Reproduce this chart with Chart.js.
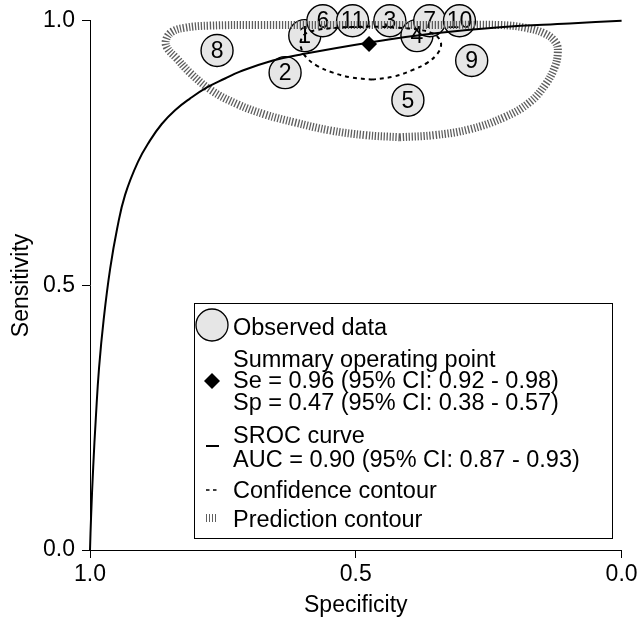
<!DOCTYPE html>
<html>
<head>
<meta charset="utf-8">
<script src="https://cdn.jsdelivr.net/npm/chart.js@4.4.1/dist/chart.umd.min.js"></script>
<style>
  html, body { margin: 0; padding: 0; background: #fff; }
  #wrap { width: 639px; height: 620px; position: relative; }
</style>
</head>
<body>
<div id="wrap"><canvas id="c" width="639" height="620"></canvas></div>
<script>
// ---------- data ----------
const studyLabels = ['1','2','3','4','5','6','7','8','9','10','11'];
const studySpecificity = [0.596, 0.633, 0.436, 0.385, 0.402, 0.562, 0.361, 0.761, 0.282, 0.305, 0.506];
const studySensitivity = [0.972, 0.902, 1.000, 0.972, 0.850, 1.000, 1.000, 0.944, 0.925, 1.000, 1.000];

const summarySpecificity = [0.475];
const summarySensitivity = [0.956];

const srocSpecificity = [1.000, 0.998, 0.994, 0.989, 0.983, 0.974, 0.962, 0.949, 0.934, 0.910, 0.887, 0.865, 0.840, 0.812, 0.780, 0.746, 0.718, 0.656, 0.605, 0.474, 0.355, 0.229, 0.098, 0.000];
const srocSensitivity = [0.000, 0.062, 0.156, 0.250, 0.344, 0.438, 0.532, 0.607, 0.671, 0.733, 0.774, 0.805, 0.831, 0.853, 0.874, 0.891, 0.904, 0.925, 0.936, 0.959, 0.976, 0.988, 0.995, 1.000];

const confSpecificity = [0.468, 0.508, 0.543, 0.573, 0.594, 0.603, 0.603, 0.594, 0.571, 0.530, 0.474, 0.421, 0.380, 0.355, 0.342, 0.340, 0.348, 0.365, 0.391, 0.427, 0.468];
const confSensitivity = [0.889, 0.893, 0.902, 0.915, 0.932, 0.949, 0.964, 0.976, 0.983, 0.987, 0.989, 0.987, 0.983, 0.976, 0.964, 0.951, 0.936, 0.921, 0.908, 0.895, 0.889];

const predSpecificity = [0.417, 0.483, 0.549, 0.615, 0.671, 0.722, 0.771, 0.812, 0.838, 0.855, 0.857, 0.846, 0.821, 0.774, 0.680, 0.568, 0.455, 0.342, 0.229, 0.182, 0.145, 0.124, 0.120, 0.126, 0.143, 0.173, 0.220, 0.286, 0.352, 0.417];
const predSensitivity = [0.780, 0.784, 0.793, 0.808, 0.823, 0.842, 0.868, 0.902, 0.930, 0.949, 0.964, 0.979, 0.987, 0.991, 0.992, 0.992, 0.992, 0.992, 0.992, 0.987, 0.976, 0.959, 0.940, 0.912, 0.880, 0.846, 0.818, 0.795, 0.784, 0.780];

const axisTicks = [0, 0.5, 1];
const legendLines = {
  observed: 'Observed data',
  summary: ['Summary operating point', 'Se = 0.96 (95% CI: 0.92 - 0.98)', 'Sp = 0.47 (95% CI: 0.38 - 0.57)'],
  sroc: ['SROC curve', 'AUC = 0.90 (95% CI: 0.87 - 0.93)'],
  conf: 'Confidence contour',
  pred: 'Prediction contour'
};

// ---------- helpers ----------
const FAMILY = '"Liberation Sans", Arial, Helvetica, sans-serif';
const zip = (xs, ys) => xs.map((x, i) => ({ x: x, y: ys[i] }));
const CIRCLE_FILL = '#e6e6e6';
const HATCH = '#5e5e5e';

Chart.defaults.font.family = FAMILY;
Chart.defaults.color = '#000';

const numberPlugin = {
  id: 'studyNumbers',
  afterDatasetDraw(chart, args) {
    if (args.index !== 0) return;
    const ctx = chart.ctx;
    ctx.save();
    ctx.fillStyle = '#000';
    ctx.font = '23px ' + FAMILY;
    ctx.textAlign = 'center';
    ctx.textBaseline = 'middle';
    args.meta.data.forEach((pt, i) => {
      ctx.fillText(studyLabels[i], pt.x, pt.y + 1);
    });
    ctx.restore();
  }
};

const legendPlugin = {
  id: 'customLegend',
  afterDraw(chart) {
    const ctx = chart.ctx;
    ctx.save();
    ctx.fillStyle = '#fff';
    ctx.fillRect(194.5, 303.5, 418, 235);
    ctx.strokeStyle = '#000';
    ctx.lineWidth = 1;
    ctx.strokeRect(194.5, 303.5, 418, 235);

    ctx.beginPath();
    ctx.arc(212, 325, 16, 0, Math.PI * 2);
    ctx.fillStyle = CIRCLE_FILL;
    ctx.fill();
    ctx.lineWidth = 1.3;
    ctx.strokeStyle = '#000';
    ctx.stroke();

    ctx.beginPath();
    ctx.moveTo(212, 381 - 8);
    ctx.lineTo(212 + 8, 381);
    ctx.lineTo(212, 381 + 8);
    ctx.lineTo(212 - 8, 381);
    ctx.closePath();
    ctx.fillStyle = '#000';
    ctx.fill();

    ctx.beginPath();
    ctx.lineWidth = 2;
    ctx.moveTo(206, 446);
    ctx.lineTo(219, 446);
    ctx.stroke();

    ctx.lineWidth = 1.5;
    ctx.beginPath();
    ctx.moveTo(206, 490); ctx.lineTo(209.5, 490);
    ctx.moveTo(213, 490); ctx.lineTo(216.5, 490);
    ctx.stroke();

    ctx.strokeStyle = HATCH;
    ctx.lineWidth = 1;
    ctx.beginPath();
    [206.5, 209.5, 212.5, 215.5].forEach(x => { ctx.moveTo(x, 514); ctx.lineTo(x, 522); });
    ctx.stroke();

    ctx.fillStyle = '#000';
    ctx.font = '23.5px ' + FAMILY;
    ctx.textAlign = 'left';
    ctx.textBaseline = 'alphabetic';
    const tx = 233;
    ctx.fillText(legendLines.observed, tx, 335);
    ctx.fillText(legendLines.summary[0], tx, 367);
    ctx.fillText(legendLines.summary[1], tx, 388);
    ctx.fillText(legendLines.summary[2], tx, 410);
    ctx.fillText(legendLines.sroc[0], tx, 443);
    ctx.fillText(legendLines.sroc[1], tx, 467);
    ctx.fillText(legendLines.conf, tx, 498);
    ctx.fillText(legendLines.pred, tx, 527);
    ctx.restore();
  }
};

const tickFont = { size: 23, family: FAMILY };

new Chart(document.getElementById('c'), {
  type: 'scatter',
  data: {
    datasets: [
      {
        label: 'Observed data',
        data: zip(studySpecificity, studySensitivity),
        pointRadius: 16,
        pointBackgroundColor: CIRCLE_FILL,
        pointBorderColor: '#000',
        pointBorderWidth: 1.4,
        showLine: false,
        clip: false,
        order: 10
      },
      {
        label: 'Prediction contour',
        data: zip(predSpecificity, predSensitivity),
        showLine: true,
        pointRadius: 0,
        borderColor: HATCH,
        borderWidth: 8,
        borderDash: [1.3, 1.7],
        borderCapStyle: 'butt',
        tension: 0.4,
        capBezierPoints: false,
        fill: false,
        clip: false,
        order: 5
      },
      {
        label: 'Confidence contour',
        data: zip(confSpecificity, confSensitivity),
        showLine: true,
        pointRadius: 0,
        borderColor: '#000',
        borderWidth: 2,
        borderDash: [4, 4],
        tension: 0.4,
        capBezierPoints: false,
        fill: false,
        clip: false,
        order: 4
      },
      {
        label: 'SROC curve',
        data: zip(srocSpecificity, srocSensitivity),
        showLine: true,
        pointRadius: 0,
        borderColor: '#000',
        borderWidth: 2,
        tension: 0.45,
        capBezierPoints: false,
        fill: false,
        clip: false,
        order: 3
      },
      {
        label: 'Summary operating point',
        data: zip(summarySpecificity, summarySensitivity),
        pointStyle: 'rectRot',
        pointRadius: 8,
        pointBackgroundColor: '#000',
        pointBorderColor: '#000',
        pointBorderWidth: 0,
        showLine: false,
        clip: false,
        order: 1
      }
    ]
  },
  options: {
    responsive: false,
    animation: false,
    devicePixelRatio: 1,
    events: [],
    layout: { padding: { top: 18, right: 17, left: 0, bottom: 0 } },
    plugins: { legend: { display: false }, tooltip: { enabled: false } },
    scales: {
      x: {
        type: 'linear',
        reverse: true,
        min: 0, max: 1,
        afterFit(s) { s.height = 70; },
        afterBuildTicks(s) { s.ticks = axisTicks.map(v => ({ value: v })); },
        ticks: { callback: v => Number(v).toFixed(1), font: tickFont, color: '#000', padding: 3, maxRotation: 0, autoSkip: false },
        grid: { display: true, drawOnChartArea: false, drawTicks: true, tickLength: 8, color: '#000', lineWidth: 1 },
        border: { display: true, color: '#000', width: 1 },
        title: { display: true, text: 'Specificity', font: { size: 23, family: FAMILY }, color: '#000', padding: { top: 0, bottom: 1 } }
      },
      y: {
        type: 'linear',
        min: 0, max: 1,
        afterFit(s) { s.width = 90; },
        afterBuildTicks(s) { s.ticks = axisTicks.map(v => ({ value: v })); },
        ticks: { callback: v => Number(v).toFixed(1), font: tickFont, color: '#000', padding: 7, autoSkip: false },
        grid: { display: true, drawOnChartArea: false, drawTicks: true, tickLength: 8, color: '#000', lineWidth: 1 },
        border: { display: true, color: '#000', width: 1 },
        title: { display: true, text: 'Sensitivity', font: { size: 23, family: FAMILY }, color: '#000', padding: { top: 8, bottom: 0 } }
      }
    }
  },
  plugins: [numberPlugin, legendPlugin]
});
</script>
</body>
</html>
